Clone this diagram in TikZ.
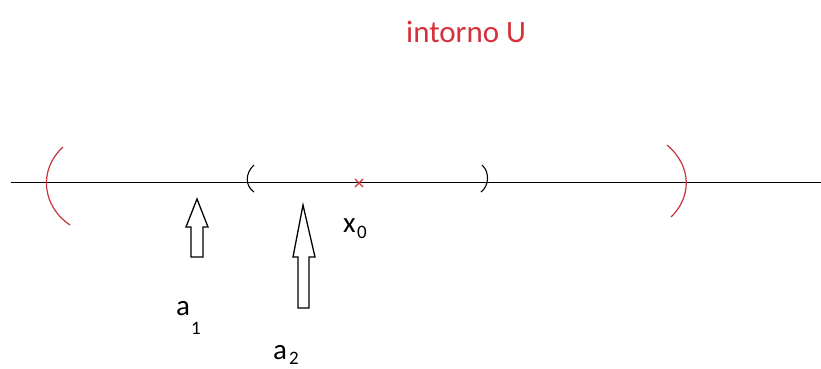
\documentclass[tikz,border=0pt]{standalone}
\usepackage{fontspec}
\setmainfont{Carlito}
\definecolor{myred}{RGB}{214,48,58}
\definecolor{arcred}{RGB}{200,50,60}
\begin{document}
\begin{tikzpicture}[x=1pt,y=-1pt,
  lbl/.style={inner sep=0pt,anchor=base west,font=\fontsize{29}{32}\selectfont},
  title/.style={inner sep=0pt,anchor=base west,font=\fontsize{31}{34}\selectfont},
  sub/.style={inner sep=0pt,anchor=base west,font=\fontsize{19}{22}\selectfont},
  hollow/.style={draw=black,line width=1.3pt,fill=white,line join=miter}]
\useasboundingbox (0,0) rectangle (821,369);
% axis
\coordinate (L) at (11,182.5);
\coordinate (R) at (821,182.5);
\draw[line width=1.2pt] (L) -- (R);
% red arcs
\draw[arcred,line width=1.2pt] (63,147) .. controls (38,170) and (42,206) .. (70,225);
\draw[arcred,line width=1.2pt] (667,145) .. controls (693,167) and (691,198) .. (671,217);
% black parens
\draw[line width=1.1pt] (254,165) .. controls (245,173) and (245,186) .. (254,192);
\draw[line width=1.1pt] (482,165) .. controls (490,172) and (489,186) .. (481,192);
% red cross
\draw[myred,line width=1.1pt] (355,179) -- (363,187) (363,179) -- (355,187);
% arrows
\draw[hollow] (197,199) -- (208,227) -- (203,227) -- (203,257) -- (191,257) -- (191,227) -- (186,227) -- cycle;
\draw[hollow] (303,205) -- (315,257) -- (309,257) -- (309,308) -- (298,308) -- (298,257) -- (293,257) -- cycle;
% labels
\node[title,myred] (U) at (406,42) {intorno U};
\node[lbl] (x0) at (343,232) {x};
\node[sub] (x0s) at (357,238) {0};
\node[lbl] (a1) at (176,315) {a};
\node[sub] (a1s) at (191,334) {1};
\node[lbl] (a2) at (273,359) {a};
\node[sub] (a2s) at (289,364) {2};
\end{tikzpicture}
\end{document}
